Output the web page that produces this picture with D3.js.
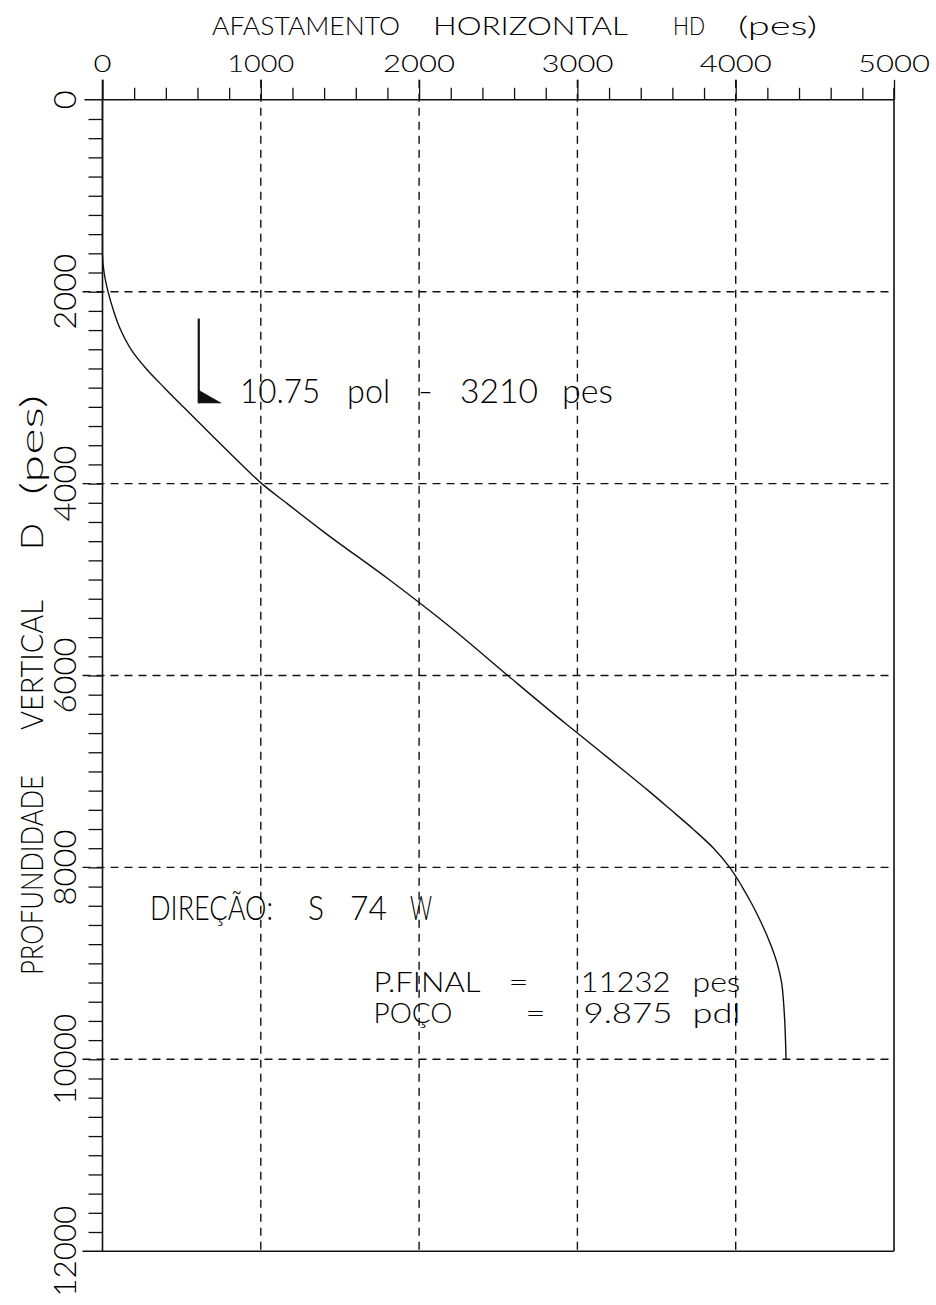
<!DOCTYPE html>
<html>
<head>
<meta charset="utf-8">
<script src="https://cdn.jsdelivr.net/npm/d3@7"></script>
<style>
  body { margin: 0; background: #fff; }
  text { font-family: Lato, "DejaVu Sans", sans-serif; font-weight: 300; fill: #000; }
</style>
</head>
<body>
<div id="chart"></div>
<script>
// trajetoria do poco: afastamento horizontal (pes) x profundidade vertical (pes)
const depthValues = [0, 1600, 1800, 2000, 2200, 2400, 2600, 2800, 3000, 3200, 3400, 3600, 3800, 4000, 4200, 4500, 5000, 5500, 6000, 6500, 6600, 6800, 7000, 7200, 7400, 7600, 7800, 8000, 8200, 8400, 8600, 8800, 9000, 9200, 9400, 10000];
const hdValues    = [0, 0,    10,   35,   70,   115,  180,  275,  390,  510,  632,  754,  878,  1006, 1160, 1395, 1810, 2200, 2560, 2925, 3000, 3150, 3300, 3448, 3590, 3730, 3860, 3962, 4040, 4108, 4168, 4220, 4262, 4290, 4302, 4318];

const xTickLabels = [0, 1000, 2000, 3000, 4000, 5000];
const yTickLabels = [0, 2000, 4000, 6000, 8000, 10000, 12000];
const xGridValues = [1000, 2000, 3000, 4000];
const yGridValues = [2000, 4000, 6000, 8000, 10000];

// sapata do revestimento 10.75 pol (desenho em pes)
const casingHd = 608, casingTop = 2280, casingShoe = 3163, casingToeHd = 755, casingHeel = 3025;

const xTitle = ["AFASTAMENTO", "HORIZONTAL", "HD", "(pes)"];
const yTitle = ["PROFUNDIDADE", "VERTICAL", "D", "(pes)"];
const casingText = ["10.75", "pol", "-", "3210", "pes"];
const directionText = ["DIREÇÃO:", "S", "74", "W"];
const finalText = ["P.FINAL", "=", "11232", "pes"];
const wellText = ["POÇO", "=", "9.875", "pdl"];

const width = 936, height = 1305;

const svg = d3.select("#chart")
    .append("svg")
    .attr("width", width)
    .attr("height", height);

const x = d3.scaleLinear().domain([0, 5000]).range([102.5, 894]);
const y = d3.scaleLinear().domain([0, 12000]).range([99.8, 1251.2]);

// grid (tracejado)
svg.append("g").selectAll("line")
    .data(xGridValues)
    .join("line")
    .attr("x1", d => x(d)).attr("x2", d => x(d))
    .attr("y1", y(0) - 20).attr("y2", y(12000))
    .attr("stroke", "#111")
    .attr("stroke-width", 1.4)
    .attr("stroke-dasharray", "8,6");

svg.append("g").selectAll("line")
    .data(yGridValues)
    .join("line")
    .attr("x1", x(0) - 20).attr("x2", x(5000))
    .attr("y1", d => y(d)).attr("y2", d => y(d))
    .attr("stroke", "#111")
    .attr("stroke-width", 1.4)
    .attr("stroke-dasharray", "8,6");

// ticks
const minorX = d3.range(200, 5000, 200).filter(d => d % 1000 !== 0);
const minorY = d3.range(200, 12000, 200);

const topAxis = svg.append("g")
    .attr("transform", `translate(0,${y(0)})`)
    .call(d3.axisTop(x).tickValues(minorX).tickSize(12).tickSizeOuter(0).tickFormat(""));
topAxis.append("g")
    .call(d3.axisTop(x).tickValues(xTickLabels).tickSize(20).tickSizeOuter(0).tickFormat(""));

svg.append("g")
    .attr("transform", `translate(${x(0)},0)`)
    .call(d3.axisLeft(y).tickValues(minorY).tickSize(14).tickSizeOuter(0).tickFormat(""));

svg.selectAll(".domain").remove();
svg.selectAll(".tick line").attr("stroke", "#111").attr("stroke-width", 1.3);

// moldura
const frame = svg.append("g").attr("stroke", "#111").attr("stroke-width", 1.6);
frame.append("line").attr("x1", x(0) - 18).attr("x2", x(5000)).attr("y1", y(0)).attr("y2", y(0));
frame.append("line").attr("x1", x(0)).attr("x2", x(0)).attr("y1", y(0) - 20).attr("y2", y(12000));
frame.append("line").attr("x1", x(0) - 20).attr("x2", x(5000)).attr("y1", y(12000)).attr("y2", y(12000));
frame.append("line").attr("x1", x(5000)).attr("x2", x(5000)).attr("y1", y(0) - 12).attr("y2", y(12000));

// rotulos dos eixos
svg.append("g").selectAll("text")
    .data(xTickLabels)
    .join("text")
    .attr("x", d => x(d))
    .attr("y", 72)
    .attr("text-anchor", "middle")
    .attr("font-size", 24)
    .attr("textLength", d => String(d).length * 18 - (String(d)[0] === "1" ? 5 : 0))
    .attr("lengthAdjust", "spacingAndGlyphs")
    .text(d => d);

svg.append("g").selectAll("text")
    .data(yTickLabels)
    .join("text")
    .attr("transform", d => `translate(76,${y(d)}) rotate(-90)`)
    .attr("text-anchor", "middle")
    .attr("font-size", 32)
    .attr("textLength", d => String(d).length * 19 - (String(d)[0] === "1" ? 4 : 0))
    .attr("lengthAdjust", "spacingAndGlyphs")
    .text(d => d);

function drawPieces(g, words, starts, widths, size) {
    g.selectAll("text")
        .data(words)
        .join("text")
        .attr("x", (d, i) => starts[i])
        .attr("font-size", size)
        .attr("textLength", (d, i) => widths[i])
        .attr("lengthAdjust", "spacingAndGlyphs")
        .text(d => d);
}

drawPieces(svg.append("g").attr("transform", "translate(0,35)"),
    xTitle, [212, 433, 673, 738], [188, 195, 32, 79], 25);

drawPieces(svg.append("g").attr("transform", "translate(43,0) rotate(-90)"),
    yTitle, [-975, -730, -550, -495], [200, 130, 27, 100], 32);

// curva do poco
const line = d3.line()
    .x(d => x(d[0]))
    .y(d => y(d[1]))
    .curve(d3.curveMonotoneY);

svg.append("path")
    .datum(d3.zip(hdValues, depthValues))
    .attr("d", line)
    .attr("fill", "none")
    .attr("stroke", "#111")
    .attr("stroke-width", 1.4);

// revestimento
svg.append("line")
    .attr("x1", x(casingHd)).attr("x2", x(casingHd))
    .attr("y1", y(casingTop)).attr("y2", y(casingShoe))
    .attr("stroke", "#111")
    .attr("stroke-width", 2.2);

svg.append("path")
    .attr("d", d3.line()([[x(casingHd), y(casingHeel)], [x(casingHd), y(casingShoe)], [x(casingToeHd), y(casingShoe)]]) + "Z")
    .attr("fill", "#111");

// anotacoes
const ax = x(869);
drawPieces(svg.append("g").attr("transform", `translate(0,${y(casingShoe)})`),
    casingText, [ax, ax + 107, ax + 178, ax + 220, ax + 322], [80, 43, 15, 78, 51], 33);

drawPieces(svg.append("g").attr("transform", `translate(0,${y(8548)})`),
    directionText, [x(300), x(300) + 158, x(300) + 200, x(300) + 260], [123, 16, 37, 22], 34);

const px = x(1712);
drawPieces(svg.append("g").attr("transform", `translate(0,${y(9295)})`),
    finalText, [px, px + 135, px + 207, px + 319], [107, 20, 90, 48], 28);
drawPieces(svg.append("g").attr("transform", `translate(0,${y(9625)})`),
    wellText, [px, px + 152, px + 210, px + 319], [79, 20, 89, 48], 28);
</script>
</body>
</html>
